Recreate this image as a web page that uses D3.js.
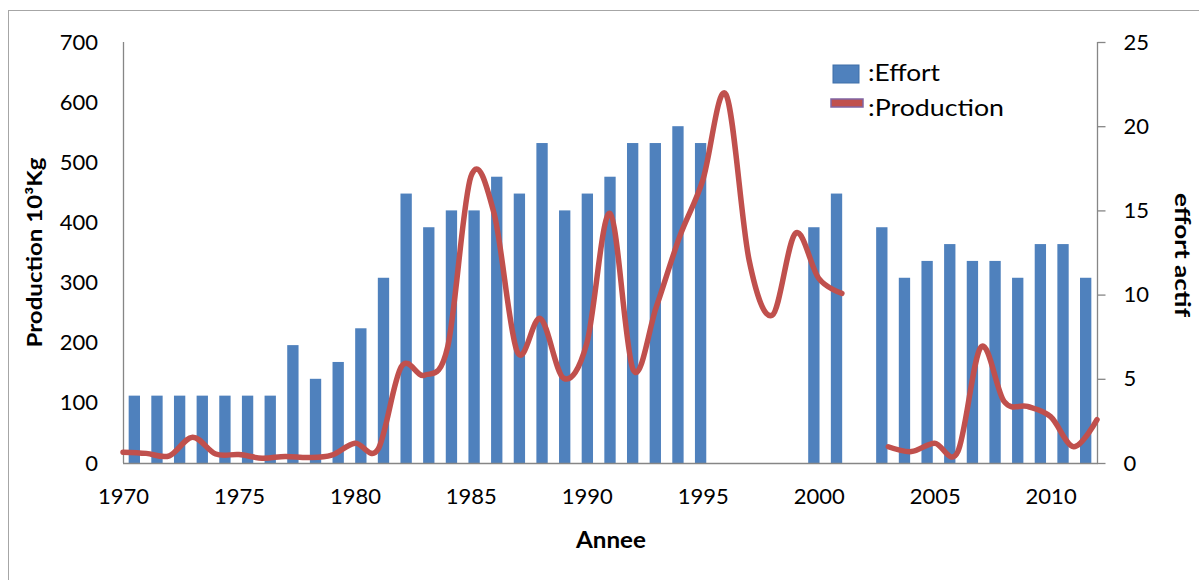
<!DOCTYPE html>
<html>
<head>
<meta charset="utf-8">
<script src="https://cdn.jsdelivr.net/npm/d3@7"></script>
<style>
  html, body { margin: 0; padding: 0; background: #fff; }
  svg { display: block; font-family: Lato, "Open Sans", sans-serif; }
</style>
</head>
<body>
<svg id="chart" width="1199" height="580"></svg>
<script>
// ---- data ----
const years = d3.range(1970, 2013);
const effort = [4,4,4,4,4,4,4,7,5,6,8,11,16,14,15,15,17,16,19,15,16,17,19,19,20,19,
                null,null,null,null,14,16,null,14,11,12,13,12,12,11,13,13,11];
const production = [18,16,12,43,15,14,8,11,9,13,33,23,160,146,193,476,415,185,240,141,199,415,155,260,376,470,
                    613,337,246,382,307,282,null,27,19,33,19,193,102,94,77,27,72];
const leftTicks = [0,100,200,300,400,500,600,700];
const rightTicks = [0,5,10,15,20,25];
const xTickYears = [1970,1975,1980,1985,1990,1995,2000,2005,2010];
const seriesNames = [":Effort", ":Production"];

// ---- layout ----
const svg = d3.select("#chart");
const L = 123, R = 1097, T = 42, B = 463;
const tickFont = 22;

// outer frame
svg.append("rect").attr("x", 8.5).attr("y", 10.5).attr("width", 1300).attr("height", 700)
  .attr("fill", "none").attr("stroke", "#a6a6a6").attr("stroke-width", 1);

const xBand = d3.scaleBand().domain(years).range([L, R]).paddingInner(0.5).paddingOuter(0.25);
const xPoint = d3.scalePoint().domain(years).range([L, R]);
const yLeft = d3.scaleLinear().domain([0, 700]).range([B, T]);
const yRight = d3.scaleLinear().domain([0, 25]).range([B, T]);

// bars (effort on right axis)
svg.append("g").selectAll("rect")
  .data(years.map((y, i) => ({year: y, v: effort[i]})).filter(d => d.v != null))
  .join("rect")
  .attr("x", d => xBand(d.year))
  .attr("width", xBand.bandwidth())
  .attr("y", d => yRight(d.v))
  .attr("height", d => yRight(0) - yRight(d.v))
  .attr("fill", "#4f81bd");

// axes lines
const axisColor = "#868686";
svg.append("line").attr("x1", L + 0.5).attr("x2", L + 0.5).attr("y1", T).attr("y2", B)
  .attr("stroke", axisColor).attr("stroke-width", 1.3);
svg.append("line").attr("x1", R + 0.5).attr("x2", R + 0.5).attr("y1", T).attr("y2", B)
  .attr("stroke", axisColor).attr("stroke-width", 1.3);

// left axis labels
const gl = svg.append("g").attr("transform", `translate(${L},0)`)
  .call(d3.axisLeft(yLeft).tickValues(leftTicks).tickSize(0).tickPadding(25));
gl.select(".domain").remove();
gl.selectAll("text").attr("font-size", tickFont).attr("font-family", "Lato, 'Open Sans', sans-serif").attr("fill", "#000");

// right axis
const gr = svg.append("g").attr("transform", `translate(${R + 0.5},0)`)
  .call(d3.axisRight(yRight).tickValues(rightTicks).tickSize(8).tickPadding(18));
gr.select(".domain").remove();
gr.selectAll("line").attr("stroke", axisColor).attr("stroke-width", 1.3);
gr.selectAll("text").attr("font-size", tickFont).attr("font-family", "Lato, 'Open Sans', sans-serif").attr("fill", "#000");

// production line (left axis)
const line = d3.line()
  .defined(d => d.v != null)
  .x(d => xPoint(d.year))
  .y(d => yLeft(d.v))
  .curve(d3.curveCardinal.tension(0));
svg.append("path")
  .datum(years.map((y, i) => ({year: y, v: production[i]})))
  .attr("d", line)
  .attr("fill", "none")
  .attr("stroke", "#c0504d")
  .attr("stroke-width", 5.5)
  .attr("stroke-linejoin", "round")
  .attr("stroke-linecap", "round");

// bottom axis
svg.append("line").attr("x1", L).attr("x2", R + 1).attr("y1", B + 0.5).attr("y2", B + 0.5)
  .attr("stroke", axisColor).attr("stroke-width", 1.3);
const gb = svg.append("g").attr("transform", `translate(0,${B})`)
  .call(d3.axisBottom(xPoint).tickValues(xTickYears).tickSize(0).tickPadding(25));
gb.select(".domain").remove();
gb.selectAll("text").attr("font-size", tickFont).attr("font-family", "Lato, 'Open Sans', sans-serif").attr("fill", "#000");

// axis titles
svg.append("text").attr("transform", `translate(42,${(T + B) / 2}) rotate(-90)`)
  .attr("text-anchor", "middle").attr("font-weight", "bold").attr("font-size", 20)
  .attr("textLength", 190).attr("lengthAdjust", "spacingAndGlyphs")
  .text("Production 10³Kg");
svg.append("text").attr("transform", `translate(1175,255) rotate(90)`)
  .attr("text-anchor", "middle").attr("font-weight", "bold").attr("font-size", 20)
  .attr("textLength", 124).attr("lengthAdjust", "spacingAndGlyphs")
  .text("effort actif");
svg.append("text").attr("x", 611).attr("y", 548)
  .attr("text-anchor", "middle").attr("font-weight", "bold").attr("font-size", 22)
  .attr("textLength", 70).attr("lengthAdjust", "spacingAndGlyphs")
  .text("Annee");

// legend
const lg = svg.append("g");
lg.append("rect").attr("x", 833).attr("y", 65).attr("width", 26).attr("height", 18)
  .attr("fill", "#4f81bd").attr("stroke", "#3f6fa8").attr("stroke-width", 1);
lg.append("text").attr("x", 868).attr("y", 81).attr("font-size", 23)
  .attr("textLength", 72).attr("lengthAdjust", "spacingAndGlyphs").text(seriesNames[0]);
lg.append("rect").attr("x", 831).attr("y", 99).attr("width", 32).attr("height", 8)
  .attr("fill", "#c0504d").attr("stroke", "#8064a2").attr("stroke-width", 1.5);
lg.append("text").attr("x", 868).attr("y", 116).attr("font-size", 23)
  .attr("textLength", 136).attr("lengthAdjust", "spacingAndGlyphs").text(seriesNames[1]);
</script>
</body>
</html>
